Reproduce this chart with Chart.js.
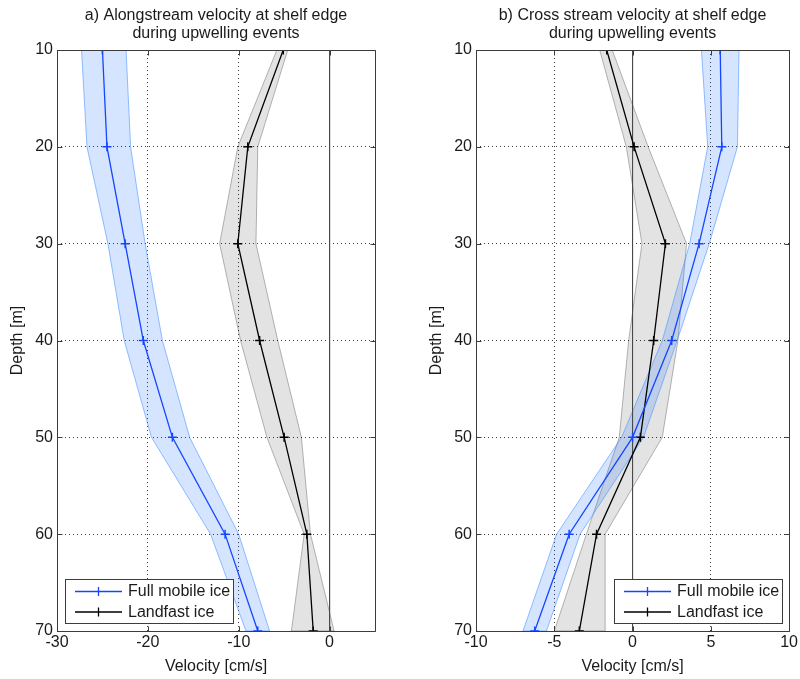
<!DOCTYPE html>
<html>
<head>
<meta charset="utf-8">
<title>Shelf edge velocity profiles</title>
<script src="https://cdn.jsdelivr.net/npm/chart.js@4.4.1/dist/chart.umd.min.js"></script>
<style>
  body { margin: 0; background: #fff; }
  #wrap { position: relative; width: 800px; height: 679px; overflow: hidden; }
  canvas { position: absolute; top: 0; }
  #alongChart { left: 0; }
  #crossChart { left: 419px; }
</style>
</head>
<body>
<div id="wrap">
  <canvas id="alongChart" width="380" height="679"></canvas>
  <canvas id="crossChart" width="381" height="679"></canvas>
</div>
<script>
// depth levels [m]
const depths = [10, 20, 30, 40, 50, 60, 70];
const depthTicks = [10, 20, 30, 40, 50, 60, 70];

// a) alongstream velocity [cm/s]
const alongTicks = [-30, -20, -10, 0];
const alongMobile = [-25.0, -24.5, -22.5, -20.5, -17.3, -11.5, -7.9];
const alongMobileLo = [-27.3, -26.7, -24.4, -22.6, -19.6, -13.1, -9.2];
const alongMobileHi = [-22.4, -21.9, -20.3, -18.4, -15.4, -10.0, -6.6];
const alongFast = [-5.1, -9.0, -10.1, -7.7, -5.0, -2.5, -1.8];
const alongFastLo = [-5.8, -10.1, -12.1, -9.8, -6.9, -2.8, -4.2];
const alongFastHi = [-4.6, -7.9, -8.1, -5.7, -3.1, -2.1, 0.5];

// b) cross stream velocity [cm/s]
const crossTicks = [-10, -5, 0, 5, 10];
const crossMobile = [5.6, 5.7, 4.25, 2.5, 0.0, -4.05, -6.25];
const crossMobileLo = [4.4, 4.8, 3.65, 1.9, -0.7, -4.85, -7.0];
const crossMobileHi = [6.8, 6.7, 4.9, 2.85, 0.7, -3.35, -5.5];
const crossFast = [-1.65, 0.1, 2.1, 1.35, 0.5, -2.3, -3.4];
const crossFastLo = [-2.1, -0.4, 0.6, -0.25, -0.85, -2.95, -5.0];
const crossFastHi = [-1.3, 1.0, 3.45, 2.9, 1.9, -1.75, -1.75];

// zero reference line
const zeroX = [0, 0];
const zeroDepth = [10, 70];

const BLUE = '#1446ff';
const BLACK = '#000000';
const INK = '#1a1a1a';
const FRAME = '#3c3c3c';
const FONT = '"Liberation Sans", Arial, Helvetica, sans-serif';

Chart.defaults.font.family = FONT;
Chart.defaults.font.size = 16;
Chart.defaults.color = INK;

const profile = (vals, ys = depths) => vals.map((v, i) => ({ x: v, y: ys[i] }));
// closed outline: down the low edge, back up the high edge
const envelope = (lo, hi) => profile(lo).concat(profile(hi).reverse());

// box around the axes with inward tick marks
const frame = {
  id: 'frame',
  afterDatasetsDraw(chart) {
    const { ctx, chartArea: a, scales: { x, y } } = chart;
    const px = v => Math.round(v) + 0.5;
    const L = px(a.left), R = px(a.right), T = px(a.top), B = px(a.bottom);
    ctx.save();
    ctx.strokeStyle = FRAME;
    ctx.lineWidth = 1;
    ctx.beginPath();
    ctx.rect(L, T, R - L, B - T);
    x.ticks.forEach(t => {
      const xp = px(x.getPixelForValue(t.value));
      ctx.moveTo(xp, B); ctx.lineTo(xp, B - 5);
      ctx.moveTo(xp, T); ctx.lineTo(xp, T + 5);
    });
    y.ticks.forEach(t => {
      const yp = px(y.getPixelForValue(t.value));
      ctx.moveTo(L, yp); ctx.lineTo(L + 5, yp);
      ctx.moveTo(R, yp); ctx.lineTo(R - 5, yp);
    });
    ctx.stroke();
    ctx.restore();
  }
};

// boxed legend with line + marker samples
const boxLegend = {
  id: 'boxLegend',
  afterDraw(chart, args, opts) {
    const { ctx, chartArea: a } = chart;
    const items = chart.data.datasets.filter(d => d.inLegend);
    ctx.save();
    ctx.font = '16px ' + FONT;
    const tw = Math.max(...items.map(d => ctx.measureText(d.label).width));
    const w = Math.round(63 + tw + 3);
    const h = 44;
    const x0 = opts.side === 'left' ? Math.round(a.left) + 8 : Math.round(a.right) - 7 - w;
    const y0 = Math.round(a.bottom) - 8 - h;
    ctx.fillStyle = '#fff';
    ctx.fillRect(x0, y0, w, h);
    ctx.strokeStyle = FRAME;
    ctx.lineWidth = 1;
    ctx.strokeRect(x0 + 0.5, y0 + 0.5, w, h);
    items.forEach((d, i) => {
      const cy = y0 + 12.5 + i * 20.5;
      ctx.strokeStyle = d.borderColor;
      ctx.lineWidth = 1.3;
      ctx.beginPath();
      ctx.moveTo(x0 + 10, cy); ctx.lineTo(x0 + 57, cy);
      ctx.moveTo(x0 + 33.5, cy - 4.5); ctx.lineTo(x0 + 33.5, cy + 4.5);
      ctx.stroke();
      ctx.fillStyle = INK;
      ctx.textBaseline = 'middle';
      ctx.fillText(d.label, x0 + 63, cy + 0.5);
    });
    ctx.restore();
  }
};

function makeChart(id, title, ticks, xMin, xMax, side, padRight, s) {
  const line = (label, vals, color) => ({
    label, inLegend: true,
    data: profile(vals),
    borderColor: color, borderWidth: 1.3,
    pointStyle: 'cross', pointRadius: 4.5, pointBorderWidth: 1.5,
    pointBorderColor: color, pointBackgroundColor: color,
    fill: false, tension: 0
  });
  const shade = (lo, hi, fillC, edgeC) => ({
    label: 'spread',
    data: envelope(lo, hi),
    borderColor: edgeC, borderWidth: 1,
    backgroundColor: fillC,
    pointRadius: 0, fill: 'shape', tension: 0
  });

  return new Chart(document.getElementById(id), {
    type: 'line',
    data: {
      datasets: [
        line('Full mobile ice', s.mobile, BLUE),
        line('Landfast ice', s.fast, BLACK),
        { label: 'zero', data: profile(zeroX, zeroDepth), borderColor: '#4a4a4a',
          borderWidth: 1, pointRadius: 0, fill: false },
        shade(s.mobileLo, s.mobileHi, 'rgba(0, 92, 255, 0.16)', 'rgba(60, 140, 255, 0.55)'),
        shade(s.fastLo, s.fastHi, 'rgba(0, 0, 0, 0.11)', 'rgba(0, 0, 0, 0.28)')
      ]
    },
    options: {
      responsive: false,
      animation: false,
      events: [],
      layout: { padding: { left: 0, right: padRight, top: 0, bottom: 0 }, autoPadding: false },
      plugins: {
        legend: { display: false },
        tooltip: { enabled: false },
        title: {
          display: true, text: title, fullSize: false, color: INK,
          font: { size: 16, weight: 'normal', lineHeight: 1.15 },
          padding: { top: 6, bottom: 7.2 }
        },
        boxLegend: { side }
      },
      scales: {
        x: {
          type: 'linear', min: xMin, max: xMax,
          afterBuildTicks: sc => { sc.ticks = ticks.map(v => ({ value: v })); },
          afterFit: sc => { sc.height = 48; },
          ticks: { padding: 2, maxRotation: 0, color: INK },
          grid: { color: '#3a3a3a', lineWidth: 1, drawTicks: false },
          border: { display: false, dash: [1, 3] },
          title: { display: true, text: 'Velocity [cm/s]', color: INK, padding: { top: 2, bottom: 3 } }
        },
        y: {
          type: 'linear', reverse: true, min: 10, max: 70,
          afterBuildTicks: sc => { sc.ticks = depthTicks.map(v => ({ value: v })); },
          afterFit: sc => { sc.width = 57; },
          ticks: { padding: 4, color: INK },
          grid: { color: '#3a3a3a', lineWidth: 1, drawTicks: false },
          border: { display: false, dash: [1, 3] },
          title: { display: true, text: 'Depth [m]', color: INK, padding: { top: 8, bottom: 0 } }
        }
      }
    },
    plugins: [frame, boxLegend]
  });
}

makeChart('alongChart',
  ['a) Alongstream velocity at shelf edge', 'during upwelling events'],
  alongTicks, -30, 5, 'left', 5,
  { mobile: alongMobile, mobileLo: alongMobileLo, mobileHi: alongMobileHi,
    fast: alongFast, fastLo: alongFastLo, fastHi: alongFastHi });

makeChart('crossChart',
  ['b) Cross stream velocity at shelf edge', 'during upwelling events'],
  crossTicks, -10, 10, 'right', 8,
  { mobile: crossMobile, mobileLo: crossMobileLo, mobileHi: crossMobileHi,
    fast: crossFast, fastLo: crossFastLo, fastHi: crossFastHi });
</script>
</body>
</html>
